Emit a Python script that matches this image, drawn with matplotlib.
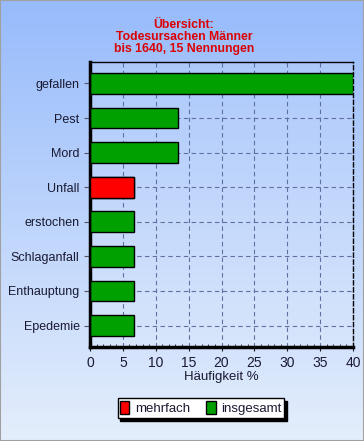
import numpy as np
import matplotlib.pyplot as plt
from matplotlib.patches import Rectangle
from matplotlib.colors import LinearSegmentedColormap

plt.rcParams['font.family'] = ['Liberation Sans', 'DejaVu Sans']

categories = ['gefallen', 'Pest', 'Mord', 'Unfall', 'erstochen',
              'Schlaganfall', 'Enthauptung', 'Epedemie']
insgesamt = [40.0, 13.33, 13.33, 6.67, 6.67, 6.67, 6.67, 6.67]
mehrfach = [0, 0, 0, 6.67, 0, 0, 0, 0]

txtcol = '#1a1a33'
fig = plt.figure(figsize=(3.64, 4.41), dpi=100)

# background gradient of the whole figure
bg = fig.add_axes([0, 0, 1, 1], zorder=-10)
cmap = LinearSegmentedColormap.from_list('bg', ['#97bbfb', '#e4eefc'])
bg.imshow(np.linspace(0, 1, 256).reshape(-1, 1), aspect='auto', cmap=cmap,
          extent=[0, 1, 0, 1])
bg.set_xlim(0, 1)
bg.set_ylim(0, 1)
bg.axis('off')
bg.add_patch(Rectangle((0, 0), 1, 1, transform=bg.transAxes, fill=False,
                       edgecolor='#a0a0a0', lw=1.5))

W, H = 364, 441
ax = fig.add_axes([90 / W, 1 - 347 / H, (353 - 90) / W, (347 - 62) / H])
ax.set_facecolor((1, 1, 1, 0.12))

y = np.arange(len(categories))
ax.barh(y, insgesamt, height=0.6, color='#00a000', edgecolor='black',
        lw=1, zorder=3, label='insgesamt')
ax.barh(y, mehrfach, height=0.6, color='#ff0000', edgecolor='black',
        lw=1, zorder=4, label='mehrfach')

ax.set_xlim(0, 40)
ax.set_ylim(7.62, -0.62)
ax.set_yticks(y)
ax.set_yticklabels(categories, fontsize=9, color=txtcol)
ax.set_xticks(np.arange(0, 41, 5))
ax.set_xticks(np.arange(0, 41, 1), minor=True)
ax.tick_params(axis='x', which='major', labelsize=10, labelcolor=txtcol,
               direction='out', length=3, colors=txtcol)
ax.tick_params(axis='x', which='minor', direction='in', length=2,
               colors=txtcol)
ax.tick_params(axis='y', length=4, colors='#555566', labelcolor=txtcol)
ax.grid(True, which='major', ls=(0, (4, 3)), color='#6070a0', lw=0.8,
        zorder=0)
ax.set_axisbelow(True)

for s in ['left', 'bottom']:
    ax.spines[s].set_linewidth(2.5)
    ax.spines[s].set_color('black')
ax.spines['top'].set_linewidth(1)
ax.spines['right'].set_linestyle((0, (3, 2)))
ax.spines['right'].set_linewidth(1)

ax.set_xlabel('Häufigkeit %', fontsize=9.5, color=txtcol, labelpad=1)

fig.text(0.505, 1 - 37 / H, 'Übersicht:\nTodesursachen Männer\nbis 1640, 15 Nennungen',
         ha='center', va='center', color='#dd0000', fontsize=8.8,
         fontweight='bold', linespacing=1.05)

h, l = ax.get_legend_handles_labels()
leg = fig.legend(h[::-1], l[::-1], loc='center', ncol=2,
                 bbox_to_anchor=(201 / W, 1 - 408 / H), fontsize=9.5,
                 frameon=True, fancybox=False, shadow={'color': 'black', 'alpha': 1},
                 edgecolor='black', handlelength=0.7, handleheight=1.2,
                 handletextpad=0.45, columnspacing=1.2, borderpad=0.2,
                 borderaxespad=0)
leg.get_frame().set_linewidth(1)
for t in leg.get_texts():
    t.set_color(txtcol)

fig.savefig('out.png', dpi=100)
